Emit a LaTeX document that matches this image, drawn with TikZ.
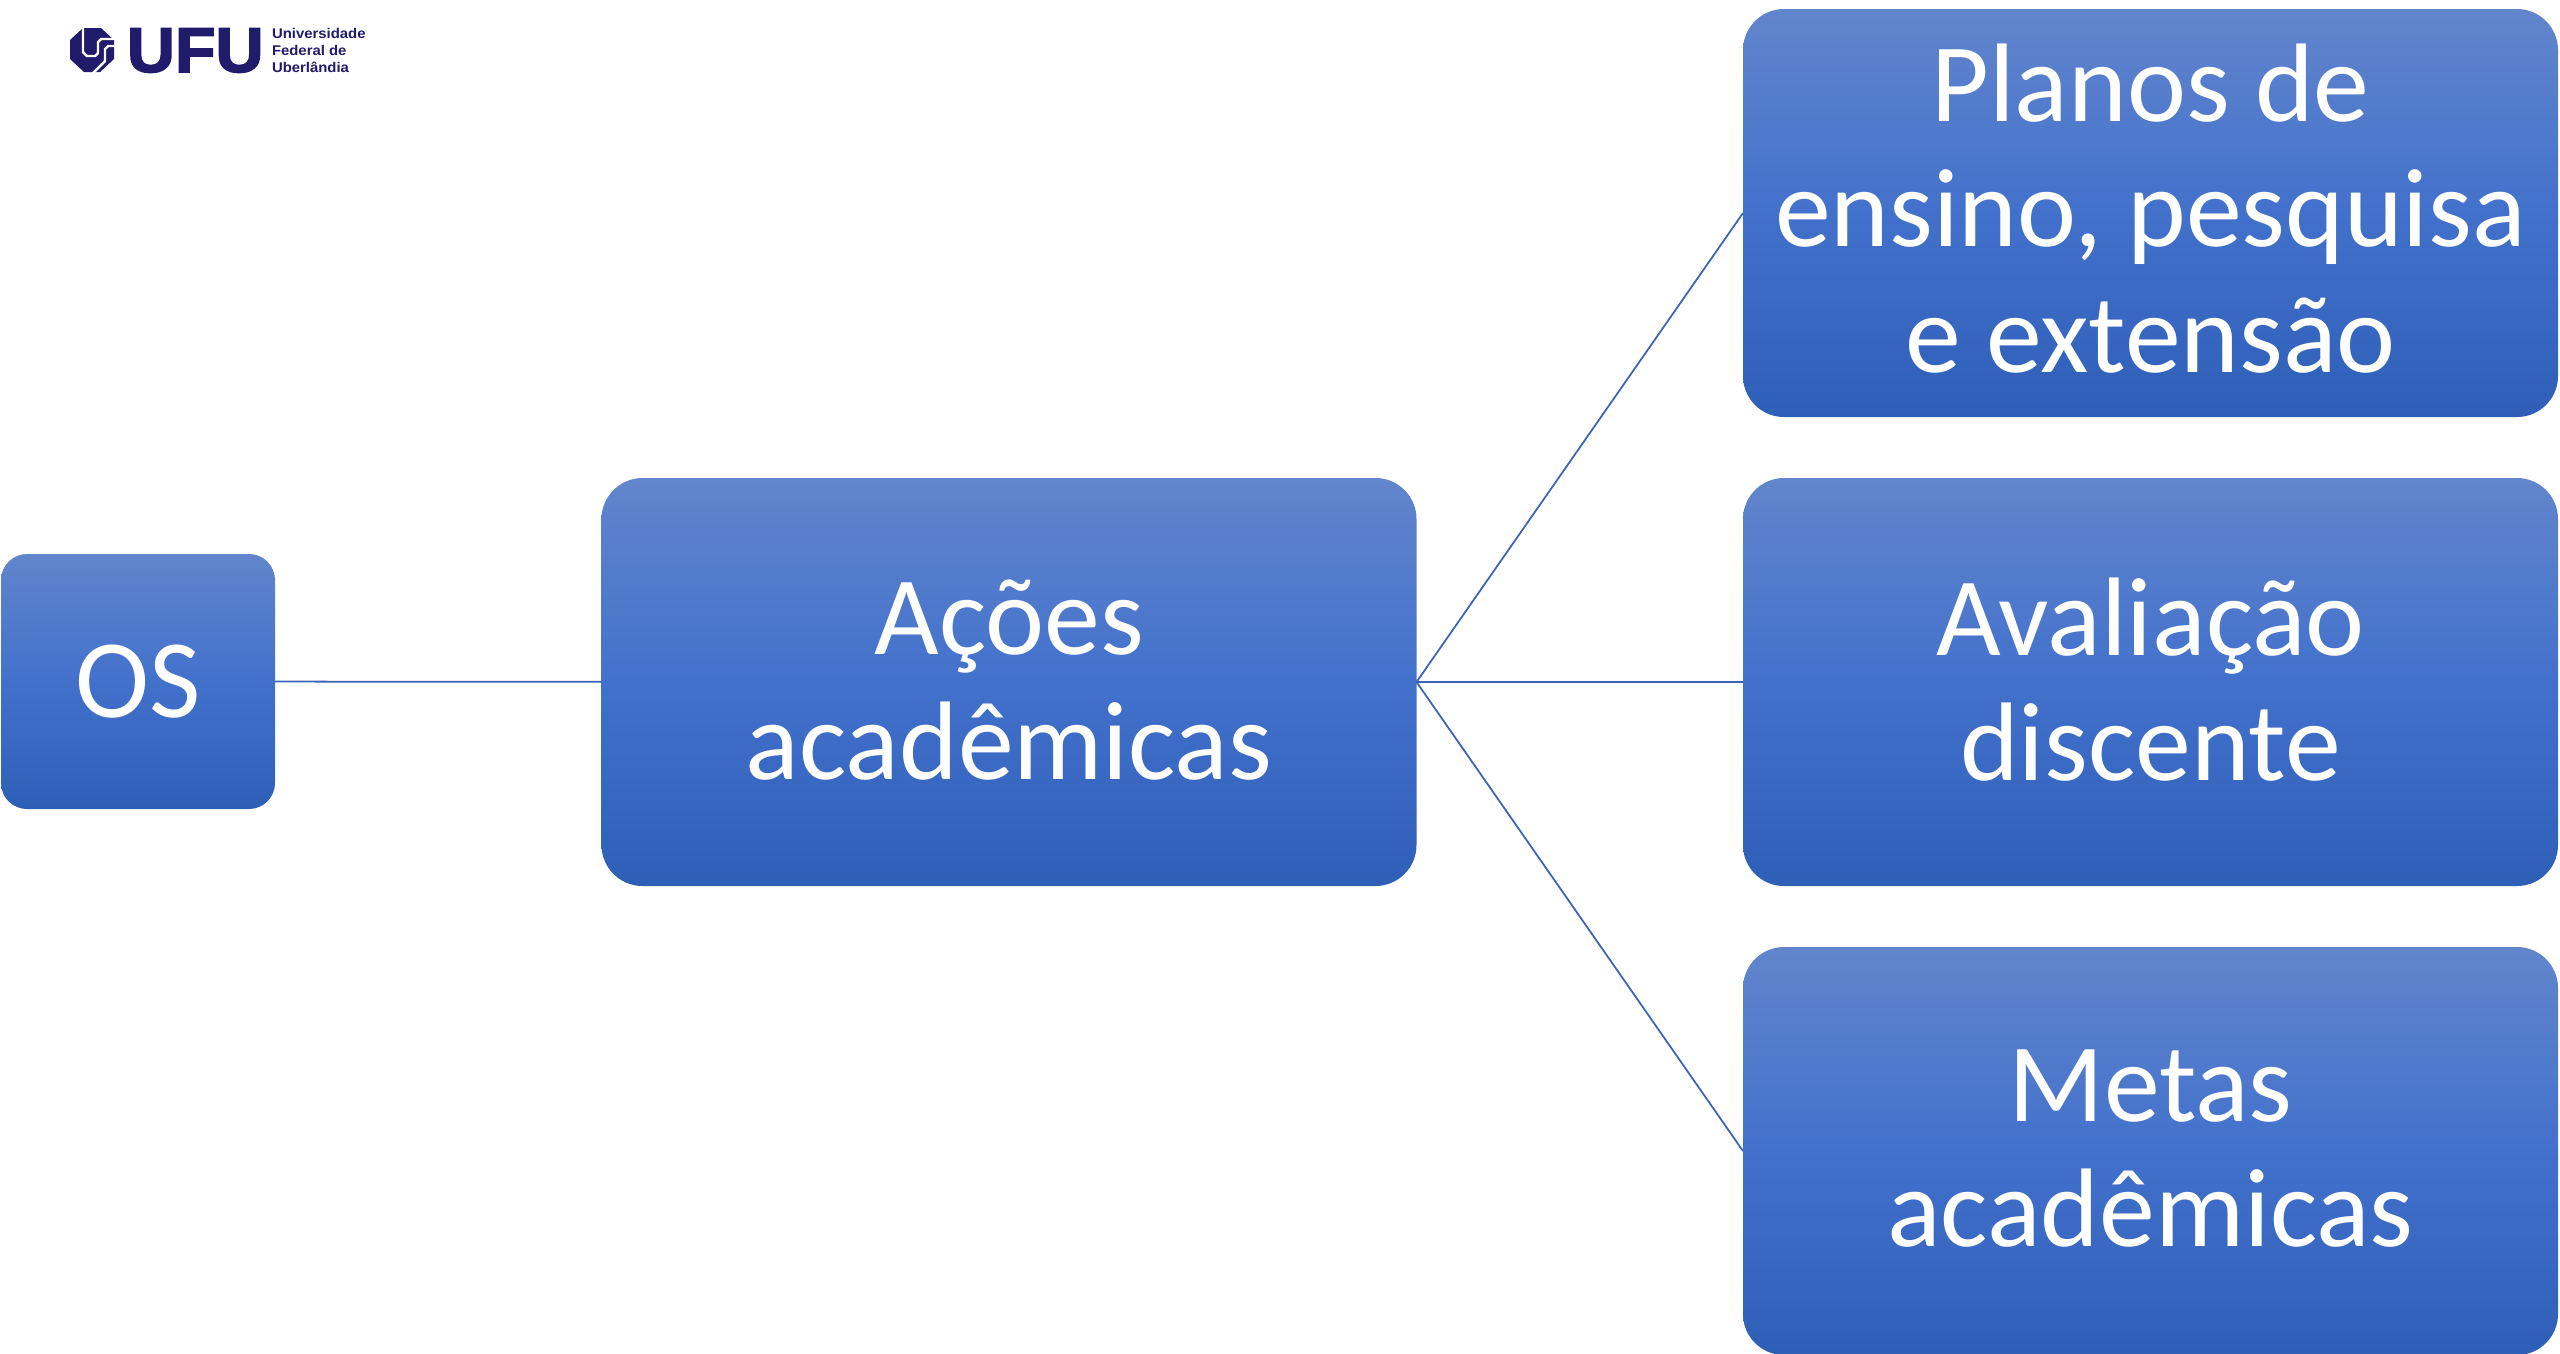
\documentclass[tikz,border=0pt]{standalone}
\usepackage{fontspec}
\setmainfont{Carlito}
\newfontfamily\logofont[FakeBold=2.4]{Liberation Sans}
\newfontfamily\logosmall{Liberation Sans}[BoldFont=* Bold]
\usepackage{tikz}
\definecolor{boxtop}{RGB}{98,133,204}
\definecolor{boxmid}{RGB}{66,113,204}
\definecolor{boxbot}{RGB}{46,95,183}
\definecolor{linkblue}{RGB}{60,100,178}
\definecolor{ufunavy}{RGB}{32,27,107}

\begin{document}
\begin{tikzpicture}
        \useasboundingbox (0,0) rectangle (25.6,-13.53);
        \begin{scope}[every node/.style={top color=boxtop,bottom color=boxbot,middle color=boxmid,rounded corners=0.41cm,text=white,
                inner sep=0,outer sep=0,minimum width=8.15cm,minimum height=4.08cm,align=center,font=\fontsize{31.8}{35.6}\selectfont}]
            \node[minimum width=2.74cm,minimum height=2.55cm,rounded corners=0.26cm] (os) at (1.38,-6.815) {OS};
            \node (acoes) at (10.09,-6.82) {Ações\\acadêmicas\\[-34.2pt]};

            \node (planos) at (21.505,-2.13) {Planos de\\ensino, pesquisa\\e extensão\\[-32.8pt]};
            \node (avaliacao) at (21.505,-6.82) {Avaliação\\discente\\[-34.2pt]};
            \node (metas) at (21.505,-11.51) {Metas\\acadêmicas\\[-34.2pt]};
        \end{scope}
        \begin{scope}[every edge/.style={draw=linkblue,line width=0.5pt}]
            \path [-] (os) edge node {} (acoes);
            \path [-] (acoes.east) edge node {} (planos.west);
            \path [-] (acoes.east) edge node {} (avaliacao.west);
            \path [-] (acoes.east) edge node {} (metas.west);
        \end{scope}
        % logo
        \begin{scope}[every node/.style={text=ufunavy,inner sep=0,outer sep=0}]
            \fill[ufunavy] (0.70,-0.40) -- (0.83,-0.28) -- (1.01,-0.28) -- (1.14,-0.40) -- (1.14,-0.59) -- (1.00,-0.72) -- (0.84,-0.72) -- (0.70,-0.59) -- cycle;
            \draw[white,line width=0.7pt] (0.83,-0.27) -- (0.83,-0.52) -- (0.87,-0.56) -- (0.95,-0.56) -- (0.98,-0.53) -- (0.98,-0.42) -- (1.01,-0.39) -- (1.15,-0.39);
            \draw[white,line width=0.7pt] (0.93,-0.73) -- (1.05,-0.61) -- (1.05,-0.49) -- (1.08,-0.46) -- (1.15,-0.46);
            \node[anchor=base west,font=\logofont\bfseries\fontsize{18}{18}\selectfont,xscale=1.05] (ufu) at (1.27,-0.72) {UFU};
            \node[anchor=base west,font=\logosmall\bfseries\fontsize{4}{4}\selectfont,xscale=1.06] (uni) at (2.72,-0.38) {Universidade};
            \node[anchor=base west,font=\logosmall\bfseries\fontsize{4}{4}\selectfont,xscale=1.06] (fed) at (2.72,-0.55) {Federal de};
            \node[anchor=base west,font=\logosmall\bfseries\fontsize{4}{4}\selectfont,xscale=1.06] (ube) at (2.72,-0.72) {Uberlândia};
        \end{scope}
    \end{tikzpicture}
\end{document}
